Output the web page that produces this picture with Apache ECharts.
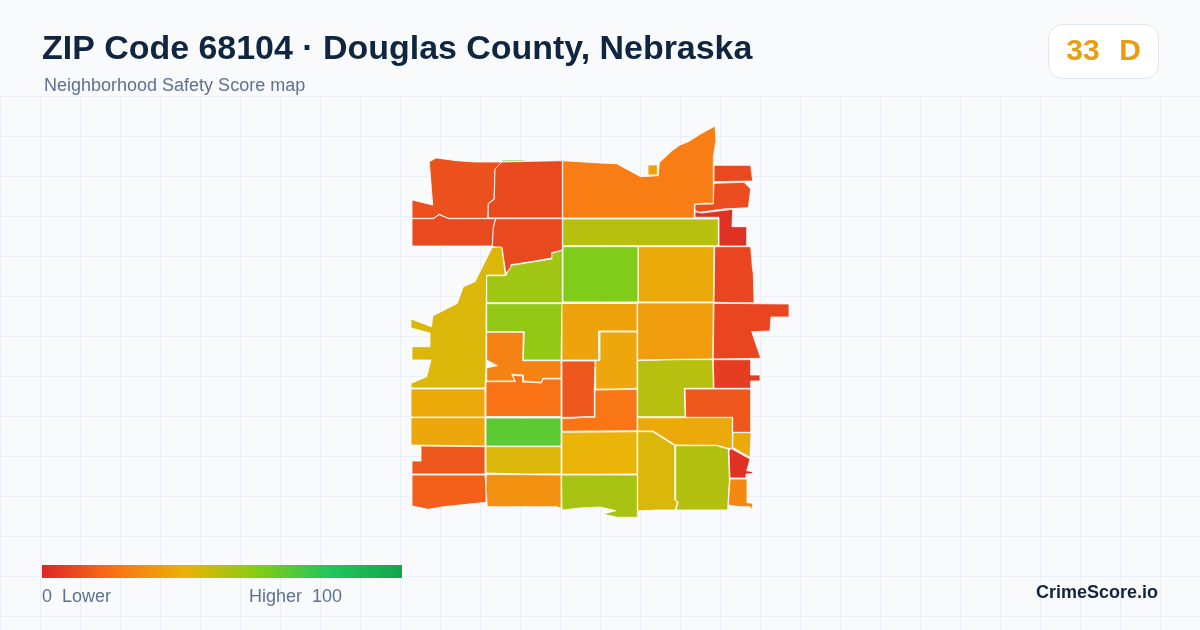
<!DOCTYPE html>
<html>
<head>
<meta charset="utf-8">
<title>ZIP Code 68104</title>
<script src="https://cdn.jsdelivr.net/npm/echarts@6/dist/echarts.min.js"></script>
<style>
  html, body { margin: 0; padding: 0; background: #f8fafc; }
  #chart { width: 1200px; height: 630px; }
</style>
</head>
<body>
<div id="chart"></div>
<script>
// tract names, scores and outlines (in map units, y down)
const tractNames = [
  'A', 'Sliver', 'B', 'C', 'D', 'E', 'Square', 'F', 'G', 'H', 'I', 'J', 'K', 'L', 'M', 'N', 'O', 'P', 'Q', 'R',
  'S', 'T', 'U', 'V', 'W', 'X', 'Y', 'Z', 'AA', 'AB', 'AC', 'AD', 'AE', 'AF', 'AG', 'AH', 'AI', 'AJ', 'AK', 'AL',
  'AM', 'AN', 'AO'
];
const tractScores = [
  11, 68, 9, 9, 9, 23, 34, 9, 10, 3, 50, 61, 37, 8, 8, 6, 13, 50, 37, 43,
  51, 37, 3, 27, 43, 55, 57, 25, 20, 37, 36, 13, 15, 68, 43, 29, 53, 40, 13, 21,
  36, 35, 33
];
const tractOutlines = [
  [[429.3,161.7],[436,158],[456.7,160.7],[475,162],[501.7,162],[500.7,163.3],[495,169],[494,198.7],[488.3,203.3],[487.7,218.3],[448.3,218.3],[439.3,214.3],[433.3,218.3],[412,218.3],[412,200],[432.7,205]],
  [[502,160],[525,160],[525,161.3],[502,161.3]],
  [[501.7,162],[532.7,161.3],[562.3,160.7],[562.3,218],[488.3,218],[488.3,204],[494.3,199.3],[495,169.3]],
  [[412,218.7],[433.3,218.7],[439.3,214.7],[448.3,218.7],[487.7,218.7],[495.7,218.7],[493.3,226.7],[492.3,246],[412,246]],
  [[495.7,218.7],[562.3,218.7],[562.3,250],[551.7,252.7],[552.7,257.7],[533.3,261.3],[510.7,264.7],[511.7,268.3],[505.7,272.7],[502,247.3],[492.3,246.7],[493.3,228.3]],
  [[562.7,160.7],[600,163],[616.7,163.7],[625,168.3],[640.7,176.7],[658.3,175.7],[659.3,162.7],[671.7,151],[680,145],[688.3,141.7],[700,134.3],[715,126],[716,140],[713.3,156.7],[713.3,203.3],[704,203.3],[694.3,204.3],[694.3,218],[562.7,218]],
  [[648,165],[657.3,165],[657.3,175],[648,175]],
  [[714,165.3],[750.7,165.3],[752.7,181],[714,181.7]],
  [[714,183.3],[744,182.3],[750.7,189],[748.3,207.7],[723.3,209],[700,212.3],[695,210.7],[695,204.3],[713.3,204]],
  [[695,211.7],[701.7,213],[732.7,209.3],[732,226.7],[746.7,226.7],[746.7,246],[719,246],[719,217.3],[695,217.3]],
  [[562.7,219],[718.3,219],[718.3,245.7],[562.7,245.7]],
  [[563,246.7],[638,246.7],[638,302],[563,302]],
  [[638.3,246.7],[714,246.7],[713.7,274],[713.3,302],[638.3,302]],
  [[714.7,246.7],[750.7,246.7],[752.3,266.7],[753.3,274],[754,302.7],[733.3,302.7],[714,302.3]],
  [[714,303.3],[789,304],[789,317],[771,317],[770,331],[751.7,331.7],[760.7,358.3],[713.3,359]],
  [[713.3,359.7],[750.7,359.7],[750.7,375],[760,375],[760,381],[750.7,381],[750.7,388.3],[714,388.3]],
  [[685,389],[750.7,389],[750.7,432.3],[732.7,432.3],[732.7,417.3],[685.7,417.3]],
  [[637.7,360.7],[675,359.7],[712.7,359.7],[713.3,388.3],[684.3,388.3],[685,416.7],[637.7,416.7]],
  [[637.7,417.7],[732.3,417.7],[732.3,448.3],[728.3,448.3],[716.7,445.3],[675.3,445],[653.3,431],[637.7,431]],
  [[637.7,431.7],[652.7,431.7],[674.7,445.7],[674.7,500],[677.3,502.3],[675.3,510],[656.7,510],[637.7,511]],
  [[675.7,445.7],[716.7,445.7],[728.3,449],[729.3,480],[727.7,510],[676,510],[678.3,502.3],[675.7,500]],
  [[733,432.7],[751,432.7],[750,457.3],[732.7,447.3]],
  [[730.7,448.3],[750,459],[746.7,470.7],[752.7,471.7],[752.7,473.7],[746,474],[746,478],[730,478],[729,451.7]],
  [[730,479],[747,479],[747,502.7],[752.7,503.3],[752,510],[750,506.7],[740,506.7],[728.3,505.3]],
  [[492.3,247.3],[501.7,247.3],[505.3,275],[486.7,275],[486,320],[486,368],[485,388],[411,388],[411,383.3],[426.7,376.7],[431,360],[412,360],[412,346.7],[430,346.7],[430,333],[411,328],[411,319],[431.5,326.7],[432.7,316],[433.3,315],[457.3,303.3],[463.3,286.7],[475,281.7]],
  [[486.7,275.7],[505.7,275.7],[511.7,265.3],[552,259],[551.7,253.3],[562.3,250.3],[562.3,302.7],[486.7,302.7]],
  [[486.7,303.7],[562.3,303.7],[561.7,320],[561,360],[523.3,360],[524.3,331.7],[486.7,331.7]],
  [[486.7,332.3],[523.3,332.3],[522.7,360.7],[561,360.7],[561,378.3],[542.7,378.3],[541.7,382.3],[533.3,381.7],[523.3,381],[523.3,375],[511.7,374.3],[515,381],[486.7,381],[486.7,367.7],[497.3,365.7],[486.7,360]],
  [[486,381.7],[515.5,381.7],[512.5,375.3],[522.5,376],[522.5,382],[533,382.5],[541.5,383],[543,379],[561,379],[561,416.5],[486,416.5]],
  [[411,389],[485,389],[485,417],[411,417]],
  [[411,417.7],[485,417.7],[485,446],[453,445.5],[411,445]],
  [[421,446],[485,446.7],[485,474],[412,474],[412,461],[421,461]],
  [[412,475],[485,475],[486,490],[486,502.3],[466.7,504.3],[443.3,506.7],[428.3,509.3],[412,506]],
  [[486,418],[561,418],[561,446],[486,446]],
  [[486,446.7],[561,446.7],[561,474],[524,474],[486,473]],
  [[486.3,474.5],[523,474.7],[561,475],[561,508.3],[556.7,506.7],[487.3,506.7],[486,490]],
  [[561.5,475],[637.3,475],[637.3,517.3],[617,517.3],[603,514],[616,510.7],[600,507],[580,508],[562,510]],
  [[562,432.3],[637,431.7],[637,474],[562,474.3]],
  [[562,361],[595,361],[594.3,389.3],[594.3,416.7],[583.3,416.7],[573.3,417.3],[562,417.3]],
  [[562,418.3],[573,418.3],[583.3,417.3],[595,417.3],[595,390],[637,389.3],[637,430.7],[562,431.3]],
  [[600,332],[637,332],[637,388.3],[617,389],[595.7,389],[595.7,360.5],[600,360.5]],
  [[562,303.5],[637,303.5],[637,331],[598.5,331],[598.5,360],[562,360]],
  [[637.7,303],[713.3,303],[712.7,359],[675,359.3],[637.7,360]]
];
const legendColors = ['#dc2626', '#f97316', '#eab308', '#84cc16', '#22c55e', '#16a34a'];

const titleText = 'ZIP Code 68104 · Douglas County, Nebraska';
const subtitleText = 'Neighborhood Safety Score map';
const overallScore = '33';
const overallGrade = 'D';

// geojson latitudes grow upward, the outlines were read downward
const tractGeo = {
  type: 'FeatureCollection',
  features: tractNames.map((name, i) => {
    let ring = tractOutlines[i].map(p => [p[0], -p[1]]);
    ring.push(ring[0]);
    return {
      type: 'Feature',
      properties: { name: name },
      geometry: { type: 'Polygon', coordinates: [ring] }
    };
  })
};
echarts.registerMap('zip68104', tractGeo);

// background grid
let gridLines = [];
for (let x = 0; x <= 1200; x += 40) {
  gridLines.push({ type: 'line', silent: true, z: -10, shape: { x1: x + 0.5, y1: 96, x2: x + 0.5, y2: 630 }, style: { stroke: '#e9eff4', lineWidth: 1 } });
}
for (let y = 96; y <= 630; y += 40) {
  gridLines.push({ type: 'line', silent: true, z: -10, shape: { x1: 0, y1: y + 0.5, x2: 1200, y2: y + 0.5 }, style: { stroke: '#e9eff4', lineWidth: 1 } });
}

const font = '"Liberation Sans", Arial, sans-serif';
const slate = '#5d7290';

// the visualMap bar has rounded ends, so the legend is drawn as a plain rect with the same stops
const legendGradient = new echarts.graphic.LinearGradient(0, 0, 1, 0,
  legendColors.map((color, i) => ({ offset: i / (legendColors.length - 1), color: color })));

const chart = echarts.init(document.getElementById('chart'));
chart.setOption({
  backgroundColor: '#f8fafc',
  animation: false,
  title: [
    {
      text: titleText, left: 42, top: 33, padding: 0,
      textStyle: { color: '#0f2540', fontFamily: font, fontSize: 33.95, fontWeight: 'bold' }
    },
    {
      text: subtitleText, left: 44, top: 77, padding: 0,
      textStyle: { color: slate, fontFamily: font, fontSize: 18, fontWeight: 'normal' }
    }
  ],
  visualMap: {
    type: 'continuous',
    show: false,
    seriesIndex: 0,
    min: 0,
    max: 100,
    inRange: { color: legendColors }
  },
  series: [{
    type: 'map',
    map: 'zip68104',
    aspectScale: 1,
    left: 411,
    top: 126,
    width: 378,
    height: 391.3,
    roam: false,
    silent: true,
    selectedMode: false,
    label: { show: false },
    itemStyle: { borderColor: '#ffffff', borderWidth: 0.8 },
    emphasis: { disabled: true },
    data: tractNames.map((name, i) => ({ name: name, value: tractScores[i] }))
  }],
  graphic: gridLines.concat([
    { type: 'rect', silent: true, shape: { x: 42, y: 565, width: 360, height: 13 }, style: { fill: legendGradient } },
    { type: 'rect', silent: true, shape: { x: 1048.5, y: 24.5, width: 110, height: 54, r: 14 }, style: { fill: '#ffffff', stroke: '#e2e8f0', lineWidth: 1 } },
    { type: 'text', silent: true, x: 1083, y: 52, style: { text: overallScore, font: 'bold 30px ' + font, fill: '#e99e12', textAlign: 'center', textVerticalAlign: 'middle' } },
    { type: 'text', silent: true, x: 1130, y: 52, style: { text: overallGrade, font: 'bold 30px ' + font, fill: '#e99e12', textAlign: 'center', textVerticalAlign: 'middle' } },
    { type: 'text', silent: true, x: 42, y: 597, style: { text: '0  Lower', font: '18px ' + font, fill: slate, textVerticalAlign: 'middle' } },
    { type: 'text', silent: true, x: 249, y: 597, style: { text: 'Higher  100', font: '18px ' + font, fill: slate, textVerticalAlign: 'middle' } },
    { type: 'text', silent: true, x: 1158, y: 593, style: { text: 'CrimeScore.io', font: 'bold 18px ' + font, fill: '#14243c', textAlign: 'right', textVerticalAlign: 'middle' } }
  ])
});
</script>
</body>
</html>
